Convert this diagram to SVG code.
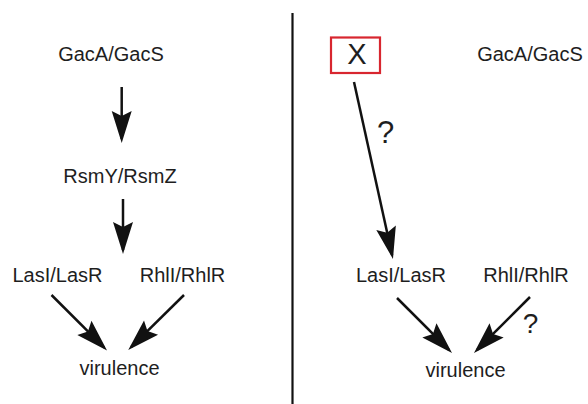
<svg xmlns="http://www.w3.org/2000/svg" width="588" height="404" viewBox="0 0 588 404">
<defs>
<style>
.t{font-family:"Liberation Sans",Arial,sans-serif;font-size:20px;fill:#1e1e1e;text-anchor:middle}
.q{font-family:"Liberation Sans",Arial,sans-serif;fill:#1e1e1e;text-anchor:middle}
.c{stroke:#111;stroke-width:2.5;fill:none;marker-end:url(#ah)}
</style>
<marker id="ah" markerUnits="userSpaceOnUse" markerWidth="40" markerHeight="24" refX="0" refY="0" orient="auto" overflow="visible" viewBox="-30 -12 40 24">
<path d="M4,0 L-28,-10 L-23,0 L-28,10 Z" fill="#111"/>
</marker>
</defs>
<rect width="588" height="404" fill="#fff"/>
<line x1="292.5" y1="13" x2="292.5" y2="404" stroke="#111" stroke-width="2.2"/>
<g id="connectors">
<line class="c" x1="121.7" y1="87" x2="121.7" y2="139"/>
<line class="c" x1="123" y1="199" x2="123" y2="250"/>
<line class="c" x1="51.5" y1="295" x2="104.2" y2="347.7"/>
<line class="c" x1="184" y1="295" x2="131.1" y2="347.2"/>
<line class="c" x1="354" y1="82" x2="392.1" y2="255.1"/>
<line class="c" x1="397" y1="298" x2="449.2" y2="350.2"/>
<line class="c" x1="530" y1="297" x2="476.8" y2="350.2"/>
<text class="q" x="385.5" y="143" font-size="31">?</text>
<text class="q" x="530.5" y="333" font-size="28">?</text>
</g>
<g id="gac-left"><text class="t" x="111" y="61">GacA/GacS</text></g>
<g id="rsm-left"><text class="t" x="120" y="183">RsmY/RsmZ</text></g>
<g id="las-left"><text class="t" x="57.5" y="282">LasI/LasR</text></g>
<g id="rhl-left"><text class="t" x="182.5" y="282">RhlI/RhlR</text></g>
<g id="vir-left"><text class="t" x="119.5" y="375">virulence</text></g>
<g id="x-node">
<rect x="331" y="37.5" width="49" height="35.5" fill="none" stroke="#d8262f" stroke-width="2.2"/>
<text class="q" x="357" y="64" font-size="29">X</text>
</g>
<g id="gac-right"><text class="t" x="530" y="61">GacA/GacS</text></g>
<g id="las-right"><text class="t" x="401" y="282">LasI/LasR</text></g>
<g id="rhl-right"><text class="t" x="526" y="282">RhlI/RhlR</text></g>
<g id="vir-right"><text class="t" x="465.5" y="377">virulence</text></g>
</svg>
